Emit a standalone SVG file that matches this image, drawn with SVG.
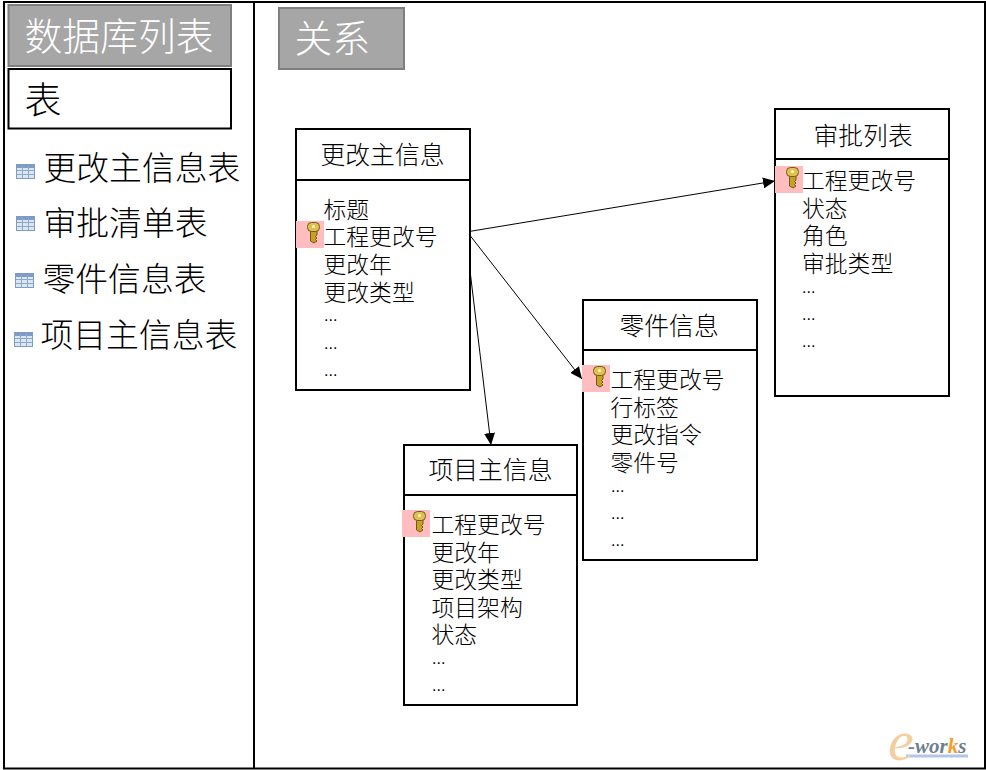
<svg xmlns="http://www.w3.org/2000/svg" width="986" height="770" viewBox="0 0 986 770">
<style>
text{font-family:"Noto Sans CJK SC","Liberation Sans",sans-serif;font-weight:300;fill:#000}
.head{font-size:37.8px;fill:#fff}
.list{font-size:32.8px}
.title{font-size:24.8px}
.body{font-size:22.8px}
.dots{font-size:16px;font-family:"Liberation Sans",sans-serif}
.box{fill:#fff;stroke:#000;stroke-width:2}
.grey{fill:#a6a6a6;stroke:#7f7f7f;stroke-width:2}
.frame{fill:none;stroke:#000;stroke-width:2}
.conn{fill:none;stroke:#000;stroke-width:1;marker-end:url(#arrow)}
</style>
<defs>
<marker id="arrow" markerUnits="userSpaceOnUse" markerWidth="13" markerHeight="11" refX="12" refY="5.500" orient="auto"><path d="M0 0L12 5.500L0 11Z" fill="#000"/></marker>
<g id="key">
<rect x="0" y="0" width="28" height="27" fill="#ffbdc0"/>
<g transform="translate(11,1)">
<path d="M3.500 7V19L7 21L10 19L8.500 17.500L10 16L8.500 14.500L10 13V7Z" fill="#c9a020" stroke="#5f5210" stroke-width=".9"/>
<rect x="0.500" y="0.500" width="12" height="9" rx="4" fill="#e0c050" stroke="#5f5210" stroke-width=".9"/>
<circle cx="6.500" cy="4.500" r="1.500" fill="#fff8d0"/>
</g>
</g>
<g id="tbl">
<rect x="0.500" y="0.500" width="18" height="14" fill="#dbe6f3" stroke="#7f9cc0"/>
<rect x="1" y="1" width="17" height="3" fill="#7f9cc8"/>
<path d="M6.500 1V14M12.500 1V14M1 6.500H18M1 10.500H18" stroke="#8fa8c8" stroke-width="1"/>
</g>
</defs>
<rect width="986" height="770" fill="#fff"/>
<g id="frame">
<rect class="frame" x="4" y="2" width="981" height="766.500"/>
<path class="frame" d="M254 2V768"/>
</g>
<g id="db-header">
<rect class="grey" x="8.500" y="5" width="222.500" height="61"/>
<text class="head" x="24.500" y="50">数据库列表</text>
</g>
<g id="tables-header">
<rect class="box" x="8.500" y="69" width="222.500" height="59.500"/>
<text x="24.500" y="114" style="font-size:37px">表</text>
</g>
<g id="list-1"><use href="#tbl" x="16" y="164"/><text class="list" x="43.500" y="180">更改主信息表</text></g>
<g id="list-2"><use href="#tbl" x="16" y="216"/><text class="list" x="43.500" y="235">审批清单表</text></g>
<g id="list-3"><use href="#tbl" x="15" y="273"/><text class="list" x="42.500" y="291">零件信息表</text></g>
<g id="list-4"><use href="#tbl" x="14" y="332"/><text class="list" x="40.500" y="347">项目主信息表</text></g>
<g id="rel-header">
<rect class="grey" x="279" y="8" width="125" height="61"/>
<text class="head" x="294.500" y="52">关系</text>
</g>
<g id="connectors">
<path class="conn" d="M466 232L775 181"/>
<path class="conn" d="M465 229L582 379"/>
<path class="conn" d="M465 229L491 445"/>
</g>
<g id="node-main">
<rect class="box" x="296" y="129" width="174" height="261"/>
<path class="frame" d="M296 180H470"/>
<text class="title" x="320.500" y="164">更改主信息</text>
<text class="body" x="323.500" y="218">标题</text>
<use href="#key" x="296" y="221"/>
<text class="body" x="323.500" y="245">工程更改号</text>
<text class="body" x="323.500" y="273">更改年</text>
<text class="body" x="323.500" y="301">更改类型</text>
<text class="dots" x="324" y="321">...</text>
<text class="dots" x="324" y="349">...</text>
<text class="dots" x="324" y="376">...</text>
</g>
<g id="node-approve">
<rect class="box" x="775" y="109" width="174" height="287"/>
<path class="frame" d="M775 159H949"/>
<text class="title" x="813.500" y="145">审批列表</text>
<use href="#key" x="775" y="166"/>
<text class="body" x="802" y="189">工程更改号</text>
<text class="body" x="802" y="217">状态</text>
<text class="body" x="802" y="244">角色</text>
<text class="body" x="802" y="272">审批类型</text>
<text class="dots" x="802" y="293">...</text>
<text class="dots" x="802" y="320">...</text>
<text class="dots" x="802" y="347">...</text>
</g>
<g id="node-part">
<rect class="box" x="583" y="300" width="174" height="260"/>
<path class="frame" d="M583 350H757"/>
<text class="title" x="619.500" y="335">零件信息</text>
<use href="#key" x="582" y="365"/>
<text class="body" x="610.500" y="388">工程更改号</text>
<text class="body" x="610.500" y="416">行标签</text>
<text class="body" x="610.500" y="443">更改指令</text>
<text class="body" x="610.500" y="471">零件号</text>
<text class="dots" x="611" y="492">...</text>
<text class="dots" x="611" y="519">...</text>
<text class="dots" x="611" y="546">...</text>
</g>
<g id="node-project">
<rect class="box" x="404" y="445" width="173" height="260"/>
<path class="frame" d="M404 495H577"/>
<text class="title" x="428.500" y="479">项目主信息</text>
<use href="#key" x="402" y="510"/>
<text class="body" x="431.500" y="533">工程更改号</text>
<text class="body" x="431.500" y="561">更改年</text>
<text class="body" x="431.500" y="588">更改类型</text>
<text class="body" x="431.500" y="616">项目架构</text>
<text class="body" x="431.500" y="643">状态</text>
<text class="dots" x="432" y="664">...</text>
<text class="dots" x="432" y="691">...</text>
</g>
<g id="logo">
<path d="M906 756H968" stroke="#b4c6e6" stroke-width="3"/>
<text x="888" y="760" style="font-family:'Liberation Serif',serif;font-style:italic;font-size:58px;fill:#f3cfa0">e</text>
<text x="908" y="753" style="font-family:'Liberation Serif',serif;font-style:italic;font-weight:700;font-size:21px;fill:#6f7f90">-wor<tspan style="fill:#f0a030">k</tspan>s</text>
</g>
</svg>
